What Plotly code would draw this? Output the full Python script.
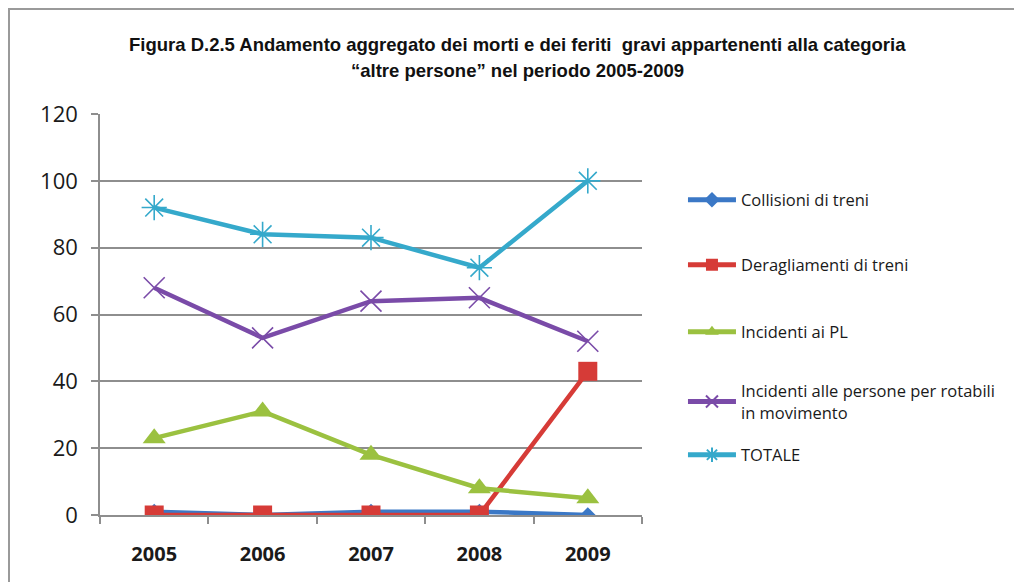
import plotly.graph_objects as go

years = ["2005", "2006", "2007", "2008", "2009"]
collisioni = [1, 0, 1, 1, 0]
deragliamenti = [0, 0, 0, 0, 43]
incidenti_pl = [23, 31, 18, 8, 5]
incidenti_persone = [68, 53, 64, 65, 52]
totale = [92, 84, 83, 74, 100]

series_names = [
    "Collisioni di treni",
    "Deragliamenti di treni",
    "Incidenti ai PL",
    "Incidenti alle persone per rotabili<br>in movimento",
    "TOTALE",
]
y_ticks = [0, 20, 40, 60, 80, 100, 120]

title_line1 = "Figura D.2.5 Andamento aggregato dei morti e dei feriti  gravi appartenenti alla categoria"
title_line2 = "\u201caltre persone\u201d nel periodo 2005-2009"

styles = [
    dict(color="#3B78C6", symbol="diamond", size=12, lc="#3B78C6", lw=0),
    dict(color="#D63B37", symbol="square", size=19, lc="#D63B37", lw=0),
    dict(color="#9BC140", symbol="triangle-up", size=20, lc="#9BC140", lw=0),
    dict(color="#7A4BA8", symbol="x-thin-open", size=21, lc="#A99BBE", lw=1.6),
    dict(color="#35A9CB", symbol="asterisk-open", size=21, lc="#8CCBE0", lw=1.6),
]
data = [collisioni, deragliamenti, incidenti_pl, incidenti_persone, totale]
legend_ids = ["legend", "legend2", "legend3", "legend4", "legend5"]
legend_y = [0.7855, 0.6234, 0.4564, 0.2830, 0.1496]

fig = go.Figure()
for i, (name, vals, st) in enumerate(zip(series_names, data, styles)):
    fig.add_trace(go.Scatter(
        x=years, y=vals, name=name, mode="lines+markers",
        legend=legend_ids[i],
        line=dict(color=st["color"], width=4.5),
        marker=dict(symbol=st["symbol"], size=st["size"], color=st["color"],
                    line=dict(color=st["lc"], width=st["lw"])),
    ))

grid = "#8E8E8E"
legend_common = dict(x=1.0756, xanchor="left", yanchor="middle",
                     font=dict(family="Open Sans", size=16.5, color="#1a1a1a"),
                     itemsizing="constant", itemwidth=48, bgcolor="rgba(0,0,0,0)")
legends = {lid: dict(legend_common, y=ly) for lid, ly in zip(legend_ids, legend_y)}

title_font = dict(family="Liberation Sans", size=18.5, color="#111111", weight="bold")

fig.update_layout(
    width=1014, height=574,
    margin=dict(l=92, r=380, t=106, b=67),
    paper_bgcolor="white", plot_bgcolor="white",
    showlegend=True,
    xaxis=dict(type="category", range=[-0.5, 4.5], showgrid=False,
               showline=True, linecolor=grid, linewidth=1.5,
               ticks="outside", tickson="boundaries", ticklen=7, tickcolor=grid, tickwidth=1.5,
               ticklabelstandoff=20,
               tickfont=dict(family="Open Sans", size=20, color="#1a1a1a", weight="bold")),
    yaxis=dict(range=[0, 120], tickvals=y_ticks, showgrid=True, gridcolor=grid, gridwidth=1.5,
               zeroline=False, showline=True, linecolor=grid, linewidth=1.5,
               ticks="outside", ticklen=7, tickcolor=grid, tickwidth=1.5,
               ticklabelstandoff=9,
               tickfont=dict(family="Open Sans", size=22, color="#1a1a1a")),
    annotations=[
        dict(text=title_line1, xref="paper", yref="paper", x=0.7712, y=1.1721,
             xanchor="center", yanchor="middle", showarrow=False, font=title_font),
        dict(text=title_line2, xref="paper", yref="paper", x=0.7712, y=1.1097,
             xanchor="center", yanchor="middle", showarrow=False, font=title_font),
    ],
    shapes=[
        dict(type="line", xref="paper", yref="paper", x0=-92/542, x1=922/542,
             y0=1 + 105/401, y1=1 + 105/401, line=dict(color="#9A9A9A", width=2)),
        dict(type="line", xref="paper", yref="paper", x0=-91/542, x1=-91/542,
             y0=-67/401, y1=1 + 106/401, line=dict(color="#9A9A9A", width=2)),
    ],
    **legends,
)

fig.write_html("out.html")
